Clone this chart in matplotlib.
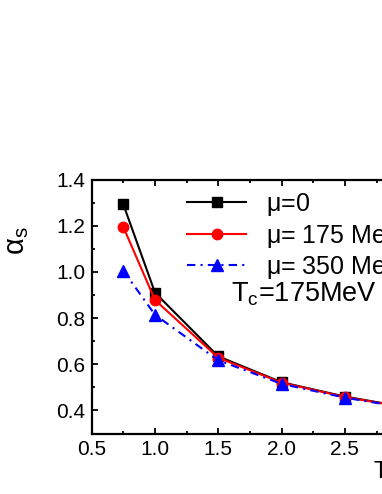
import matplotlib
matplotlib.use("Agg")
import matplotlib.pyplot as plt
from matplotlib.ticker import MultipleLocator

plt.rcParams['font.family'] = ['Liberation Sans', 'DejaVu Sans']
plt.rcParams['mathtext.fontset'] = 'custom'
plt.rcParams['mathtext.rm'] = 'Liberation Sans'
plt.rcParams['mathtext.it'] = 'Liberation Sans'

T = [0.75, 1.0, 1.5, 2.0, 2.5, 3.0]
alpha_mu0 = [1.292, 0.910, 0.634, 0.522, 0.460, 0.412]
alpha_mu175 = [1.194, 0.878, 0.628, 0.520, 0.458, 0.411]
alpha_mu350 = [1.005, 0.814, 0.617, 0.515, 0.455, 0.410]
labels = [r'$\mathregular{\mu}$=0', r'$\mathregular{\mu}$= 175 MeV', r'$\mathregular{\mu}$= 350 MeV']

W, H = 382, 494
fig = plt.figure(figsize=(W / 100, H / 100), dpi=100)
x0, x1 = 91.7, 471.5
y0, y1 = 433.5, 179.5
ax = fig.add_axes([x0 / W, 1 - y0 / H, (x1 - x0) / W, (y0 - y1) / H])

ax.plot(T, alpha_mu0, color='black', lw=1.5, marker='s', ms=6.5, label=labels[0])
ax.plot(T, alpha_mu175, color='red', lw=1.5, marker='o', ms=7.5, label=labels[1])
ax.plot(T, alpha_mu350, color='blue', lw=1.5, marker='^', ms=8,
        linestyle=(0, (4, 2.5, 1, 2.5)), label=labels[2])

ax.set_xlim(0.5, 3.5)
ax.set_ylim(0.3, 1.4)
ax.xaxis.set_minor_locator(MultipleLocator(0.25))
ax.yaxis.set_minor_locator(MultipleLocator(0.1))
ax.set_xticks([0.5, 1.0, 1.5, 2.0, 2.5, 3.0, 3.5])
ax.set_yticks([0.4, 0.6, 0.8, 1.0, 1.2, 1.4])
ax.tick_params(which='both', direction='in', top=True, right=True, width=1.3)
ax.tick_params(which='major', length=4.5, labelsize=15)
ax.tick_params(which='minor', length=2.5)
ax.tick_params(axis='x', pad=5)
ax.tick_params(axis='y', pad=4.5)
for s in ax.spines.values():
    s.set_linewidth(1.6)

ax.set_ylabel(r'$\mathregular{\alpha_s}$', fontsize=21)
ax.yaxis.set_label_coords((31 - x0) / (x1 - x0), (y0 - 241) / (y0 - y1))

leg = ax.legend(loc='upper left', bbox_to_anchor=(187 / W, 1 - 191 / H),
                bbox_transform=fig.transFigure, frameon=False, fontsize=18,
                handlelength=2.36, handletextpad=0.8, labelspacing=0.18,
                borderpad=0, borderaxespad=0)

fig.text(231 / W, 1 - 302 / H, r'T$_\mathregular{c}$=175MeV', fontsize=19.5,
         ha='left', va='baseline')
fig.text(373 / W, 1 - 478 / H, r'T/T$_\mathregular{c}$', fontsize=16.4,
         ha='left', va='baseline')

fig.savefig('out.png', dpi=100)
